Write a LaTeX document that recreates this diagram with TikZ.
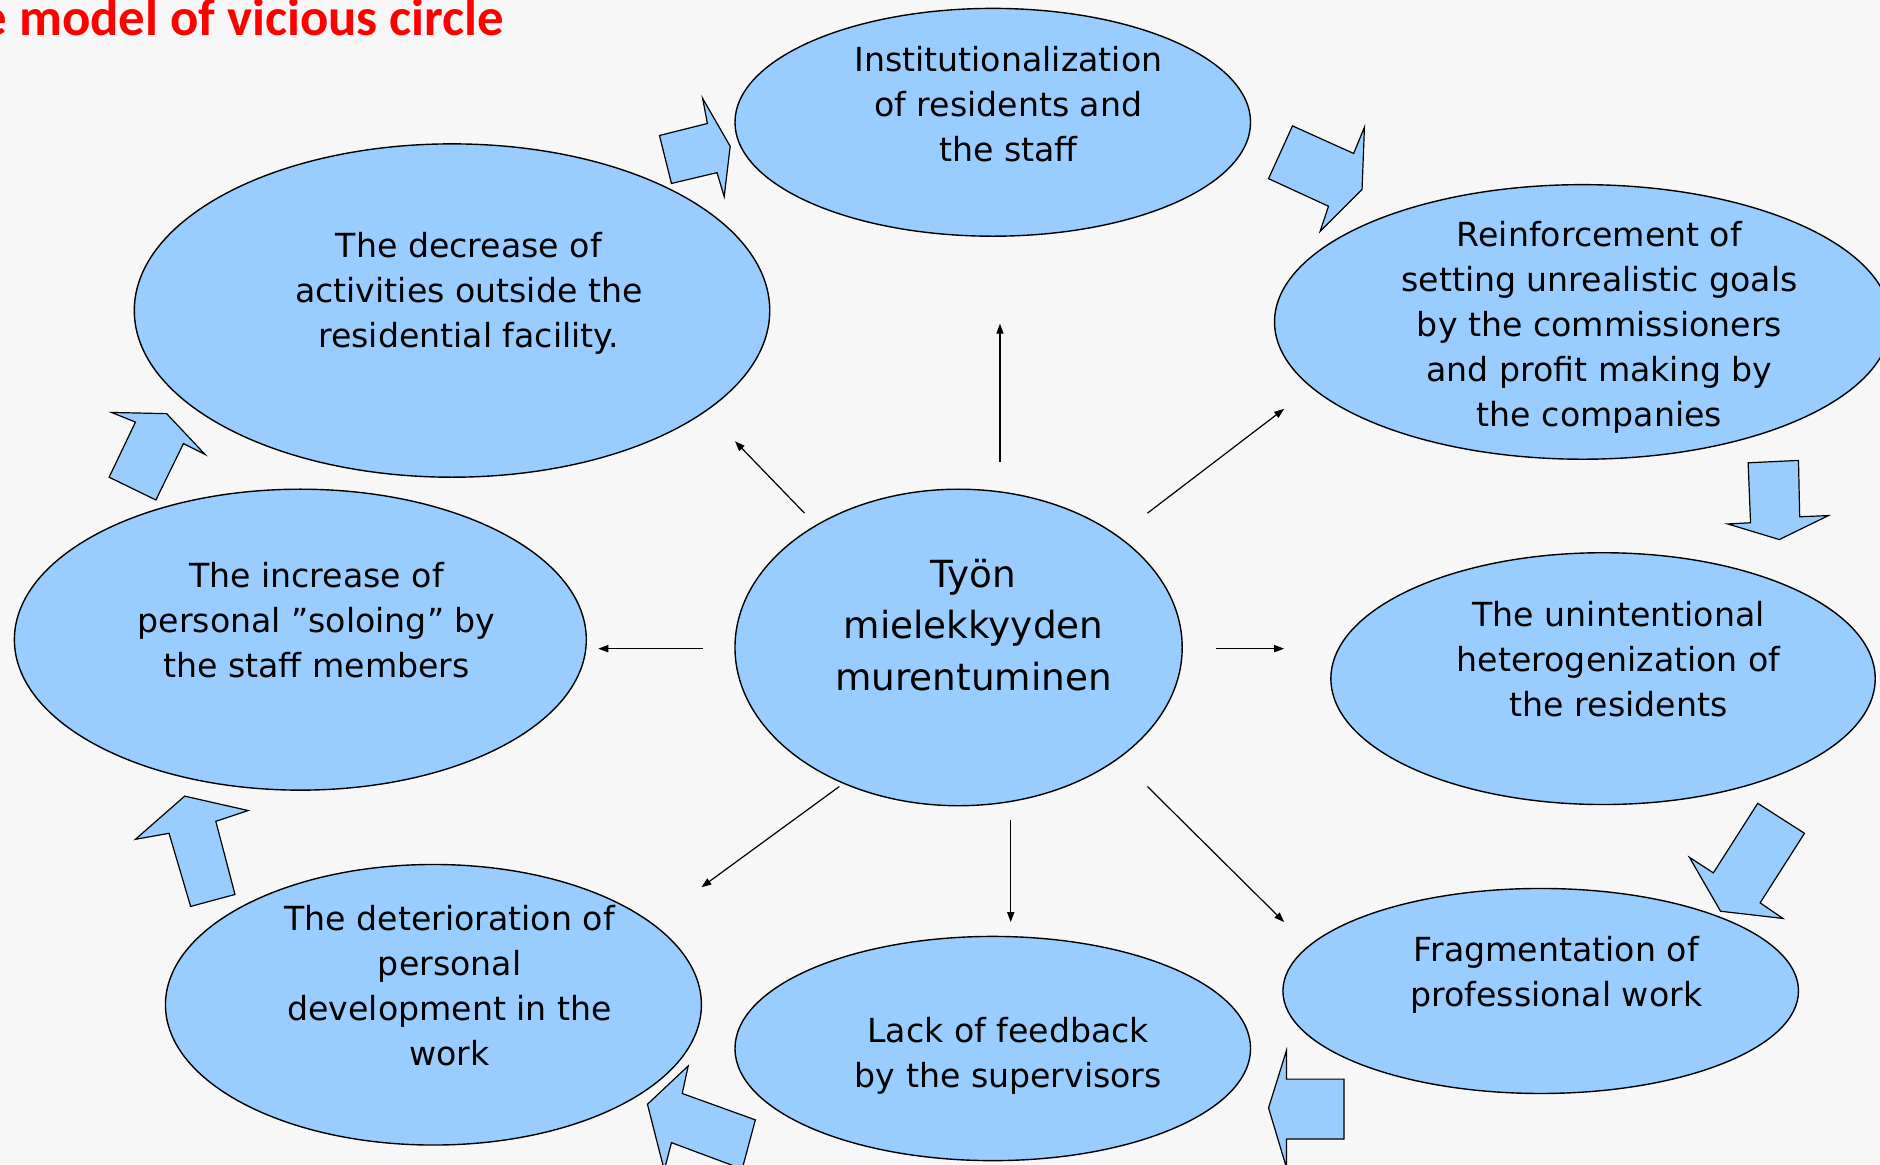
\documentclass[tikz,border=0pt]{standalone}
\usepackage{fontspec}
\setmainfont{DejaVu Sans}
\newfontfamily\titlefont{Carlito}
\usetikzlibrary{shapes.geometric,arrows.meta}
\definecolor{ellblue}{RGB}{153,204,255}
\definecolor{bggray}{RGB}{247,247,247}
\definecolor{titlered}{RGB}{255,0,0}
\begin{document}
\begin{tikzpicture}[x=0.6pt,y=-0.6pt,
  ellbox/.style 2 args={ellipse, draw=black, line width=0.7pt, fill=ellblue,
    minimum width=#1*1.2pt, minimum height=#2*1.2pt, inner sep=0pt},
  txt/.style={align=center, font={\fontsize{16.6}{22.5}\selectfont}, inner sep=0pt},
  bigtxt/.style={align=center, font={\fontsize{18.7}{25.8}\selectfont}, inner sep=0pt},
  link/.style={draw=black, line width=0.6pt, -{Triangle[length=5pt,width=3.6pt]}},
  blockarrow/.style={draw=black, line width=0.6pt, fill=ellblue, line join=miter}
]
\useasboundingbox (0,0) rectangle (1568,971);
\clip (0,0) rectangle (1568,971);
\fill[bggray] (0,0) rectangle (1568,971);

% title
\node[anchor=base east, inner sep=0pt, text=titlered,
  font={\titlefont\bfseries\fontsize{26.4}{30}\selectfont}] (title) at (421,30) {The model of vicious circle};

% ellipses
\node[ellbox={215}{95}] (inst) at (828,102) {};
\node[ellbox={265}{139}] (decr) at (377,259) {};
\node[ellbox={257}{114.5}] (reinf) at (1320,268.5) {};
\node[ellbox={227}{105}] (unint) at (1337,566) {};
\node[ellbox={215}{85.5}] (frag) at (1285,826.5) {};
\node[ellbox={215}{93.5}] (lack) at (828,874.5) {};
\node[ellbox={223.5}{117}] (deter) at (361.5,838) {};
\node[ellbox={238.5}{125.5}] (incr) at (250.5,533.5) {};
\node[ellbox={186.5}{132}] (center) at (799.5,540) {};

% block arrows
\draw[blockarrow] (550,113) -- (590,103) -- (586,82) -- (609,122) -- (604,164) -- (598,144) -- (560,153) -- cycle;
\draw[blockarrow] (1078,105) -- (1129,128) -- (1138,106) -- (1136,158) -- (1101,193) -- (1108,172) -- (1058,149) -- cycle;
\draw[blockarrow] (1458,386) -- (1500,384) -- (1501,431) -- (1525,430) -- (1484,450) -- (1441,437) -- (1460,436) -- cycle;
\draw[blockarrow] (1466,670) -- (1505,695) -- (1468,753) -- (1487,766) -- (1435,760) -- (1409,715) -- (1429,728) -- cycle;
\draw[blockarrow] (1121,900) -- (1073,900) -- (1073,876) -- (1058,924) -- (1073,974) -- (1073,950) -- (1121,950) -- cycle;
\draw[blockarrow] (630,934) -- (569,912) -- (574,889) -- (540,921) -- (554,976) -- (560,953) -- (619,975) -- cycle;
\draw[blockarrow] (113,700) -- (154,664) -- (207,676) -- (180,685) -- (196,746) -- (159,756) -- (141,695) -- cycle;
\draw[blockarrow] (93,344) -- (139,345) -- (171,379) -- (153,370) -- (130,417) -- (91,398) -- (113,352) -- cycle;

% texts
\node[txt] (inst-t) at (841,86.5) {Institutionalization\\of residents and\\the staff};
\node[txt] (decr-t) at (391,245) {The decrease of\\activities outside the\\residential facility.};
\node[txt] (reinf-t) at (1334,273) {Reinforcement of\\setting unrealistic goals\\by the commissioners\\and profit making by\\the companies};
\node[txt] (unint-t) at (1350,550) {The unintentional\\heterogenization of\\the residents};
\node[txt] (frag-t) at (1298,813) {Fragmentation of\\professional work};
\node[txt] (lack-t) at (841,881) {Lack of feedback\\by the supervisors};
\node[txt] (deter-t) at (375,822) {The deterioration of\\personal\\development in the\\work};
\node[txt] (incr-t) at (264,517) {The increase of\\personal ”soloing” by\\the staff members};
\node[bigtxt] (center-t) at (812,521) {Työn\\mielekkyyden\\murentuminen};

% thin arrows
\coordinate (u1) at (834,385);   \coordinate (u2) at (834,270);
\coordinate (ur1) at (957,428);  \coordinate (ur2) at (1071,341);
\coordinate (r1) at (1014,541);  \coordinate (r2) at (1071,541);
\coordinate (dr1) at (957,656);  \coordinate (dr2) at (1071,769);
\coordinate (d1) at (843,684);   \coordinate (d2) at (843,769);
\coordinate (dl1) at (700,656);  \coordinate (dl2) at (585,740);
\coordinate (l1) at (586,541);   \coordinate (l2) at (499,541);
\coordinate (ul1) at (671,428);  \coordinate (ul2) at (613,368);
\draw[link] (u1) -- (u2);
\draw[link] (ur1) -- (ur2);
\draw[link] (r1) -- (r2);
\draw[link] (dr1) -- (dr2);
\draw[link] (d1) -- (d2);
\draw[link] (dl1) -- (dl2);
\draw[link] (l1) -- (l2);
\draw[link] (ul1) -- (ul2);
\end{tikzpicture}
\end{document}
